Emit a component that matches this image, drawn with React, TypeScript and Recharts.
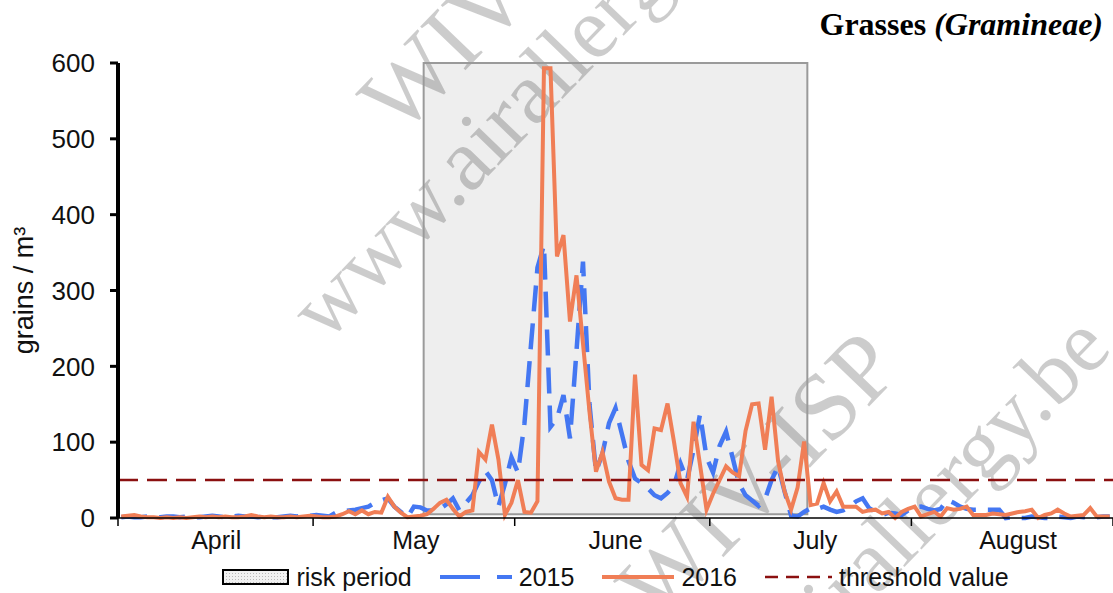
import React from "react";
import {
  LineChart,
  Line,
  XAxis,
  YAxis,
  ReferenceArea,
  ReferenceLine,
  Legend,
} from "recharts";

// day index 0 = 1 April, 152 = 31 August
const MONTHS = ["April", "May", "June", "July", "August"];
const MONTH_BOUNDS = [0, 30, 61, 91, 122, 153];
const MONTH_MIDS = [15, 45.5, 76, 106.5, 137.5];
const Y_TICKS = [0, 100, 200, 300, 400, 500, 600];
const THRESHOLD = 50;
const RISK_START = 47;
const RISK_END = 106;

const POLLEN_2015 = [
  1, 2, 1, 1, 2, 1, 1, 2, 2, 1, 2, 1, 1, 2, 3, 2, 1, 2, 3, 2,
  2, 1, 2, 1, 1, 2, 3, 2, 3, 3, 4, 3, 2, 7, 9, 10, 11, 13, 15, 20,
  23, 26, 15, 8, 1, 15, 14, 10, 10, 12, 18, 26, 10, 20, 30, 48, 62, 50, 15, 45,
  80, 60, 125, 228, 330, 360, 120, 131, 162, 105, 220, 338, 150, 61, 85, 125, 145, 110, 75, 52,
  46, 39, 30, 26, 33, 43, 72, 50, 90, 137, 80, 60, 95, 114, 80, 45, 30, 23, 16, 25,
  50, 68, 35, 3, 2, 8, 13, 12, 15, 11, 8, 10, 15, 22, 26, 13, 8, 4, 7, 6,
  4, 10, 14, 15, 12, 10, 12, 24, 20, 15, 12, 11, 11, 11, 11, 11, 0, 1, 0, 0,
  2, 1, 0, 0, 2, 1, 0, 2, 1, 2, 1, 2, 2,
];

const POLLEN_2016 = [
  2, 3, 4, 2, 1, 1, 0, 1, 0, 1, 0, 1, 2, 1, 2, 1, 2, 1, 1, 2,
  4, 2, 1, 2, 1, 1, 2, 1, 2, 3, 2, 1, 1, 2, 5, 9, 5, 10, 5, 8,
  7, 28, 15, 7, 1, 2, 3, 5, 12, 20, 24, 12, 2, 8, 10, 87, 77, 123, 77, 4,
  20, 50, 8, 7, 22, 593, 593, 345, 373, 259, 320, 230, 140, 61, 87, 48, 26, 24, 24, 189,
  70, 63, 118, 116, 151, 100, 46, 28, 127, 70, 11, 32, 50, 68, 60, 55, 115, 150, 151, 90,
  160, 75, 35, 11, 40, 101, 17, 19, 46, 22, 35, 15, 15, 15, 8, 10, 11, 6, 8, 0,
  8, 12, 15, 2, 5, 8, 2, 13, 11, 12, 15, 4, 4, 4, 6, 5, 4, 6, 8, 9,
  11, 0, 4, 6, 11, 6, 2, 3, 4, 13, 2, 2, 2,
];

// daily values sit in the middle of their day slot
const data = POLLEN_2015.map((v, i) => ({ day: i + 0.5, y2015: v, y2016: POLLEN_2016[i] }));

const BLUE = "#4477F2";
const ORANGE = "#F07E56";
const DARK_RED = "#8B1010";
const SANS = "'Liberation Sans', Arial, sans-serif";
const SERIF = "'Liberation Serif', 'Times New Roman', serif";

const Watermark = () => {
  const rows = [
    { text: "WIV-ISP", x: 400, y: 138, size: 96 },
    { text: "www.airallergy.be", x: 326, y: 344, size: 88 },
    { text: "WIV-ISP", x: 658, y: 625, size: 96 },
    { text: "www.airallergy.be", x: 668, y: 812, size: 88 },
  ];
  return (
    <svg width={1113} height={593} style={{ position: "absolute", left: 0, top: 0 }}>
      {rows.map((r, i) => (
        <text
          key={i}
          x={r.x}
          y={r.y}
          transform={`rotate(-46 ${r.x} ${r.y})`}
          fontFamily={SERIF}
          fontSize={r.size}
          fill="#000"
          fillOpacity={0.2}
        >
          {r.text}
        </text>
      ))}
    </svg>
  );
};

const renderLegend = () => {
  const item = { display: "flex", alignItems: "center", marginRight: 28 };
  const label = { fontSize: 25, fontFamily: SANS, color: "#111", marginLeft: 7 };
  return (
    <div style={{ display: "flex", justifyContent: "center", alignItems: "center", height: 28 }}>
      <div style={item}>
        <svg width={67} height={16}>
          <defs>
            <pattern id="dots" width={3} height={3} patternUnits="userSpaceOnUse">
              <rect width={3} height={3} fill="#f0f0f0" />
              <rect x={1} y={1} width={1} height={1} fill="#b8b8b8" />
            </pattern>
          </defs>
          <rect x={1} y={1} width={65} height={14} fill="url(#dots)" stroke="#000" strokeWidth={2} />
        </svg>
        <span style={label}>risk period</span>
      </div>
      <div style={item}>
        <svg width={72} height={10}>
          <line x1={0} y1={5} x2={72} y2={5} stroke={BLUE} strokeWidth={4} strokeDasharray="40 17" />
        </svg>
        <span style={label}>2015</span>
      </div>
      <div style={item}>
        <svg width={72} height={10}>
          <line x1={0} y1={5} x2={72} y2={5} stroke={ORANGE} strokeWidth={4} />
        </svg>
        <span style={label}>2016</span>
      </div>
      <div style={{ ...item, marginRight: 0 }}>
        <svg width={67} height={10}>
          <line x1={0} y1={5} x2={67} y2={5} stroke={DARK_RED} strokeWidth={2.5} strokeDasharray="13 8" />
        </svg>
        <span style={label}>threshold value</span>
      </div>
    </div>
  );
};

const YLabel = (props: any) => {
  const vb = props.viewBox;
  const cx = vb.x + 24;
  const cy = vb.y + vb.height / 2;
  return (
    <text
      x={cx}
      y={cy}
      transform={`rotate(-90 ${cx} ${cy})`}
      textAnchor="middle"
      dominantBaseline="central"
      fontFamily={SANS}
      fontSize={27}
      fill="#111"
    >
      grains / m³
    </text>
  );
};

export default function App() {
  return (
    <div style={{ position: "absolute", left: 0, top: 0, width: 1113, height: 593, background: "#fff", overflow: "hidden" }}>
      <Watermark />
      <div
        style={{
          position: "absolute",
          right: 10,
          top: 8,
          fontFamily: SERIF,
          fontWeight: "bold",
          fontSize: 32,
          lineHeight: 1,
          color: "#000",
        }}
      >
        Grasses <i>(Gramineae)</i>
      </div>
      <div style={{ position: "absolute", left: 0, top: 0 }}>
        <LineChart width={1113} height={593} data={data} margin={{ top: 63, right: 0, bottom: 34, left: 0 }}>
          <XAxis
            dataKey="day"
            type="number"
            domain={[0, 153]}
            allowDataOverflow
            ticks={MONTH_BOUNDS}
            interval={0}
            tickFormatter={() => ""}
            height={1}
            tickSize={8}
            axisLine={{ stroke: "#000", strokeWidth: 1.5 }}
            tickLine={{ stroke: "#000", strokeWidth: 1.5 }}
          />
          <XAxis
            xAxisId="months"
            type="number"
            domain={[0, 153]}
            allowDataOverflow
            ticks={MONTH_MIDS}
            interval={0}
            tickFormatter={(_v: number, i: number) => MONTHS[i]}
            height={40}
            tickSize={0}
            tickMargin={12}
            axisLine={false}
            tickLine={false}
            tick={{ fontSize: 25, fill: "#111", fontFamily: SANS }}
          />
          <YAxis
            type="number"
            domain={[0, 600]}
            ticks={Y_TICKS}
            interval={0}
            width={118}
            tickSize={8}
            tickMargin={15}
            axisLine={{ stroke: "#000", strokeWidth: 4 }}
            tickLine={{ stroke: "#000", strokeWidth: 3 }}
            tick={{ fontSize: 26, fill: "#111", fontFamily: SANS }}
            label={{ content: YLabel }}
          />
          <ReferenceArea
            x1={RISK_START}
            x2={RISK_END}
            y1={5}
            y2={600}
            fill="#000"
            fillOpacity={0.067}
            stroke="#9a9a9a"
            strokeWidth={2}
            strokeOpacity={1}
          />
          <Line
            type="linear"
            dataKey="y2015"
            stroke={BLUE}
            strokeWidth={4.5}
            strokeDasharray="26 12"
            dot={false}
            isAnimationActive={false}
          />
          <Line
            type="linear"
            dataKey="y2016"
            stroke={ORANGE}
            strokeWidth={4}
            dot={false}
            isAnimationActive={false}
          />
          <ReferenceLine y={THRESHOLD} stroke={DARK_RED} strokeWidth={2.5} strokeDasharray="20 9" />
          <Legend
            layout="horizontal"
            verticalAlign="middle"
            align="center"
            content={renderLegend}
            wrapperStyle={{ top: 563, left: 118, width: 995, height: 28 }}
          />
        </LineChart>
      </div>
    </div>
  );
}
